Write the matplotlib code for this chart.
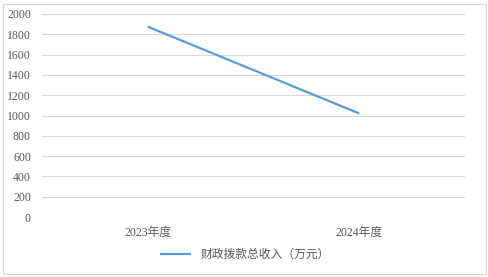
import matplotlib
matplotlib.use("Agg")
import matplotlib.pyplot as plt
from matplotlib.patches import Rectangle

plt.rcParams['font.family'] = ['Liberation Serif', 'Noto Sans CJK SC', 'DejaVu Sans']

categories = ["2023年度", "2024年度"]
values = [1875, 1020]
series_name = "财政拨款总收入（万元）"
yticks = [0, 200, 400, 600, 800, 1000, 1200, 1400, 1600, 1800, 2000]

W, H = 489, 277
fig = plt.figure(figsize=(W / 100, H / 100), dpi=100)
fig.patches.append(Rectangle((3 / W, 3 / H), 483 / W, 270 / H, transform=fig.transFigure,
                             fill=False, edgecolor='#D9D9D9', linewidth=0.8))

ax = fig.add_axes([42 / W, 1 - 217 / H, 423 / W, 203 / H])
x = list(range(len(categories)))
ax.plot(x, values, color='#5B9BD5', linewidth=1.6, label=series_name, solid_capstyle='butt')
ax.set_xlim(-0.5, len(categories) - 0.5)
ax.set_ylim(0, 2000)
ax.set_yticks(yticks)
ax.set_xticks(x)
ax.set_xticklabels(categories)
ax.grid(axis='y', color='#D9D9D9', linewidth=0.8)
ax.set_axisbelow(True)
for s in ax.spines.values():
    s.set_visible(False)
ax.tick_params(axis='both', length=0, labelsize=8.5, colors='#595959')
ax.tick_params(axis='y', pad=8)
ax.tick_params(axis='x', pad=7)

fig.legend(loc='center', bbox_to_anchor=(245 / W, 1 - 255 / H), frameon=False,
           fontsize=8.5, handlelength=2.6, labelcolor='#595959')

fig.savefig("out.png", dpi=100)
